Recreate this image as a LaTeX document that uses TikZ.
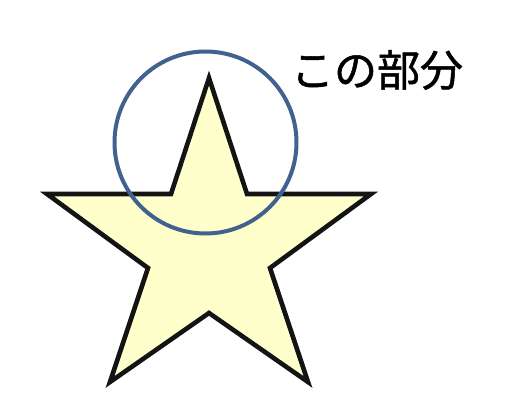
\documentclass[tikz,border=0pt]{standalone}
\usepackage{fontspec}
\newfontfamily\cjk[FakeBold=1.2]{Noto Sans CJK JP}
\definecolor{starfill}{RGB}{255,255,204}
\definecolor{ringblue}{RGB}{65,97,142}
\begin{document}
\begin{tikzpicture}[x=1pt,y=-1pt,
  starline/.style={draw=black!92,line width=4.6pt,line join=miter,fill=starfill},
  ring/.style={draw=ringblue,line width=4pt},
  lab/.style={font=\cjk\fontsize{43}{43}\selectfont,inner sep=0pt}]
\useasboundingbox (0,0) rectangle (516,411);
\draw[starline] (209,78) -- (247,194) -- (371,194) -- (270,268) -- (308,382)
  -- (209,313) -- (110,382) -- (148,268) -- (47,194) -- (171,194) -- cycle;
\node[ring,circle,minimum size=182pt,inner sep=0pt] (c) at (205.5,142.5) {};
\node[lab] (t) at (377,70) {この部分};
\end{tikzpicture}
\end{document}
